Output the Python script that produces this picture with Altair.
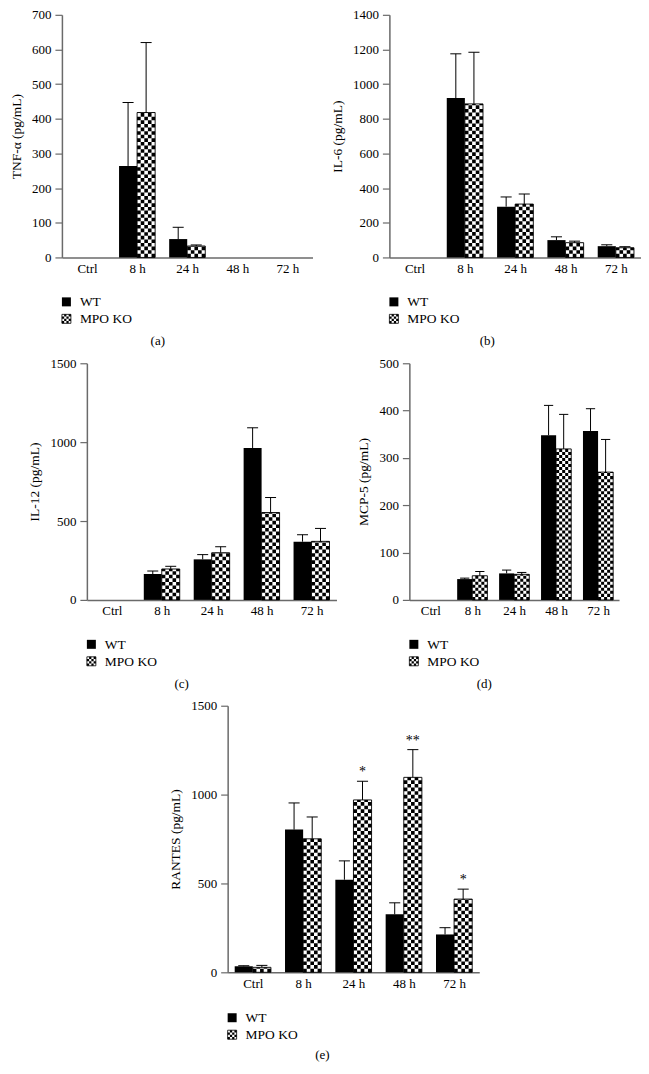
import json
import altair as alt
import pandas as pd

cats = ["Ctrl", "8 h", "24 h", "48 h", "72 h"]

tnf_wt = [0, 264, 53, 0, 0]
tnf_wt_err = [0, 183, 34, 0, 0]
tnf_ko = [0, 418, 33, 0, 0]
tnf_ko_err = [0, 202, 3, 0, 0]

il6_wt = [0, 920, 293, 100, 65]
il6_wt_err = [0, 255, 56, 19, 8]
il6_ko = [0, 886, 308, 85, 56]
il6_ko_err = [0, 298, 58, 9, 6]

il12_wt = [0, 164, 257, 963, 369]
il12_wt_err = [0, 19, 30, 128, 44]
il12_ko = [0, 196, 299, 554, 371]
il12_ko_err = [0, 17, 38, 95, 82]

mcp5_wt = [0, 44, 56, 348, 357]
mcp5_wt_err = [0, 2, 7, 63, 47]
mcp5_ko = [0, 51, 54, 319, 270]
mcp5_ko_err = [0, 9, 4, 73, 69]

rantes_wt = [34, 803, 521, 326, 213]
rantes_wt_err = [3, 150, 106, 65, 38]
rantes_ko = [28, 751, 970, 1097, 412]
rantes_ko_err = [11, 123, 105, 156, 56]
rantes_sig = ["", "", "*", "**", "*"]

FONT = "Liberation Serif"
AXIS_GRAY = "#6a6a6a"
BAR = 0.36
NCOL = 5
CELL = BAR / NCOL
CAP = 0.11
COL0_W = 255


def one_row():
    return pd.DataFrame({"k": [0]})


def panel(wt, wt_err, ko, ko_err, ymax, ystep, ytitle, width, height, caption, cap_x,
          sig=None, xoff=0, view_w=None, leg_dy=(45, 62), cap_dy=84):
    step = width / len(cats)
    cell_px = CELL * step
    rows = []
    for i, c in enumerate(cats):
        for g, vals, errs, x0 in (("WT", wt, wt_err, i - BAR), ("MPO KO", ko, ko_err, i)):
            v = vals[i]
            e = errs[i]
            xc = x0 + BAR / 2
            rows.append(dict(cat=c, group=g, value=v, top=v + e, err=e, zero=0,
                             x0=x0, x1=x0 + BAR, xc=xc, xl=xc - CAP, xr=xc + CAP,
                             sig=(sig[i] if (sig and g == "MPO KO") else "")))
    df = pd.DataFrame(rows)
    checker = []
    for i in range(len(cats)):
        if ko[i] > 0:
            for k in range(NCOL):
                checker.append(dict(xc=i + (k + 0.5) * CELL, value=ko[i], zero=0, parity=k % 2))
    cdf = pd.DataFrame(checker)

    yvals = list(range(0, ymax + 1, ystep))
    xscale = alt.Scale(domain=[-0.5, len(cats) - 0.5], nice=False, zero=False,
                       range=[xoff, xoff + width])
    yscale = alt.Scale(domain=[0, ymax], nice=False)
    xaxis = alt.Axis(values=list(range(len(cats))), tickCount=len(cats) + 5,
                     labelExpr=f"{json.dumps(cats)}[datum.value]",
                     ticks=False, grid=False, title=None, domainColor=AXIS_GRAY,
                     domainWidth=1.5, labelPadding=5, labelFlush=False, labelOverlap=False,
                     labelFontSize=13)
    yaxis = alt.Axis(values=yvals, tickCount=len(yvals) + 5, format="d", title=ytitle,
                     grid=False, tickSize=7, tickColor=AXIS_GRAY, domainColor=AXIS_GRAY,
                     domainWidth=1.5, tickWidth=1.2, labelPadding=4, titlePadding=8,
                     labelOverlap=False, labelFlush=False, offset=-xoff)

    base = alt.Chart(df)
    wt_bars = base.mark_rect(color="black").encode(
        x=alt.X("x0:Q", scale=xscale, axis=xaxis), x2="x1:Q",
        y=alt.Y("value:Q", scale=yscale, axis=yaxis), y2="zero:Q",
    ).transform_filter("datum.group == 'WT' && datum.value > 0")
    ko_fill = base.mark_rect(color="white").encode(
        x=alt.X("x0:Q", scale=xscale), x2="x1:Q",
        y=alt.Y("value:Q", scale=yscale), y2="zero:Q",
    ).transform_filter("datum.group == 'MPO KO' && datum.value > 0")
    layers = [wt_bars, ko_fill]
    for p in (0, 1):
        layers.append(
            alt.Chart(cdf).mark_rule(color="black", strokeWidth=cell_px,
                                     strokeDash=[cell_px, cell_px],
                                     strokeDashOffset=(cell_px if p else 0)).encode(
                x=alt.X("xc:Q", scale=xscale), y=alt.Y("zero:Q", scale=yscale), y2="value:Q"
            ).transform_filter(f"datum.parity == {p}")
        )
    ko_outline = base.mark_rect(fillOpacity=0, stroke="black", strokeWidth=0.9).encode(
        x=alt.X("x0:Q", scale=xscale), x2="x1:Q",
        y=alt.Y("value:Q", scale=yscale), y2="zero:Q",
    ).transform_filter("datum.group == 'MPO KO' && datum.value > 0")
    err_line = base.mark_rule(color="black", strokeWidth=1).encode(
        x=alt.X("xc:Q", scale=xscale), y=alt.Y("value:Q", scale=yscale), y2="top:Q"
    ).transform_filter("datum.err > 0")
    err_cap = base.mark_rule(color="black", strokeWidth=1).encode(
        x=alt.X("xl:Q", scale=xscale), x2="xr:Q", y=alt.Y("top:Q", scale=yscale)
    ).transform_filter("datum.err > 0")
    layers += [ko_outline, err_line, err_cap]
    if sig:
        layers.append(
            base.mark_text(fontSize=14, baseline="bottom", dy=-2, color="black").encode(
                x=alt.X("xc:Q", scale=xscale), y=alt.Y("top:Q", scale=yscale), text="sig:N"
            ).transform_filter("datum.sig != ''")
        )

    # legend
    h = height
    y1, y2 = leg_dy
    leg = alt.Chart(one_row())
    layers.append(leg.mark_rect(color="black").encode(
        x=alt.value(xoff), x2=alt.value(xoff + 9), y=alt.value(h + y1 - 5), y2=alt.value(h + y1 + 4)))
    layers.append(leg.mark_rect(color="white", stroke="black", strokeWidth=0.8).encode(
        x=alt.value(xoff), x2=alt.value(xoff + 9), y=alt.value(h + y2 - 5), y2=alt.value(h + y2 + 4)))
    cs = 9 / 4
    for k in range(4):
        layers.append(leg.mark_rule(color="black", strokeWidth=cs, strokeDash=[cs, cs],
                                    strokeDashOffset=(cs if k % 2 else 0)).encode(
            x=alt.value(xoff + (k + 0.5) * cs), y=alt.value(h + y2 + 4), y2=alt.value(h + y2 - 5)))
    layers.append(leg.mark_text(align="left", baseline="middle", fontSize=13.5, color="black").encode(
        x=alt.value(xoff + 18), y=alt.value(h + y1), text=alt.value("WT")))
    layers.append(leg.mark_text(align="left", baseline="middle", fontSize=13.5, color="black").encode(
        x=alt.value(xoff + 18), y=alt.value(h + y2), text=alt.value("MPO KO")))
    layers.append(leg.mark_text(align="center", baseline="middle", fontSize=13, color="black").encode(
        x=alt.value(xoff + cap_x), y=alt.value(h + cap_dy), text=alt.value(caption)))

    vw = view_w if view_w is not None else xoff + width
    return alt.layer(*layers).properties(width=vw, height=height)


pa = panel(tnf_wt, tnf_wt_err, tnf_ko, tnf_ko_err, 700, 100, "TNF-α (pg/mL)", 251, 243, "(a)", 96,
           view_w=COL0_W)
pb = panel(il6_wt, il6_wt_err, il6_ko, il6_ko_err, 1400, 200, "IL-6 (pg/mL)", 252, 243, "(b)", 98)
pc = panel(il12_wt, il12_wt_err, il12_ko, il12_ko_err, 1500, 500, "IL-12 (pg/mL)", 250, 237, "(c)", 95,
           xoff=25, view_w=COL0_W)
pd_ = panel(mcp5_wt, mcp5_wt_err, mcp5_ko, mcp5_ko_err, 500, 100, "MCP-5 (pg/mL)", 210, 237, "(d)", 75,
            xoff=20)
pe = panel(rantes_wt, rantes_wt_err, rantes_ko, rantes_ko_err, 1500, 500, "RANTES (pg/mL)", 252, 267, "(e)", 95,
           sig=rantes_sig, xoff=166, view_w=COL0_W, leg_dy=(46, 63), cap_dy=83)

chart = alt.concat(pa, pb, pc, pd_, pe, columns=2, spacing={"row": 106, "column": 73},
                   bounds="flush").properties(
    padding={"left": 1, "top": 0, "right": 0, "bottom": 0}
).configure(font=FONT).configure_view(stroke=None).configure_axis(
    labelFont=FONT, titleFont=FONT, labelFontSize=13, titleFontSize=13.5,
    titleFontWeight="normal", labelColor="black", titleColor="black"
)

chart.save("out.html", embed_options={"renderer": "svg", "actions": False})
